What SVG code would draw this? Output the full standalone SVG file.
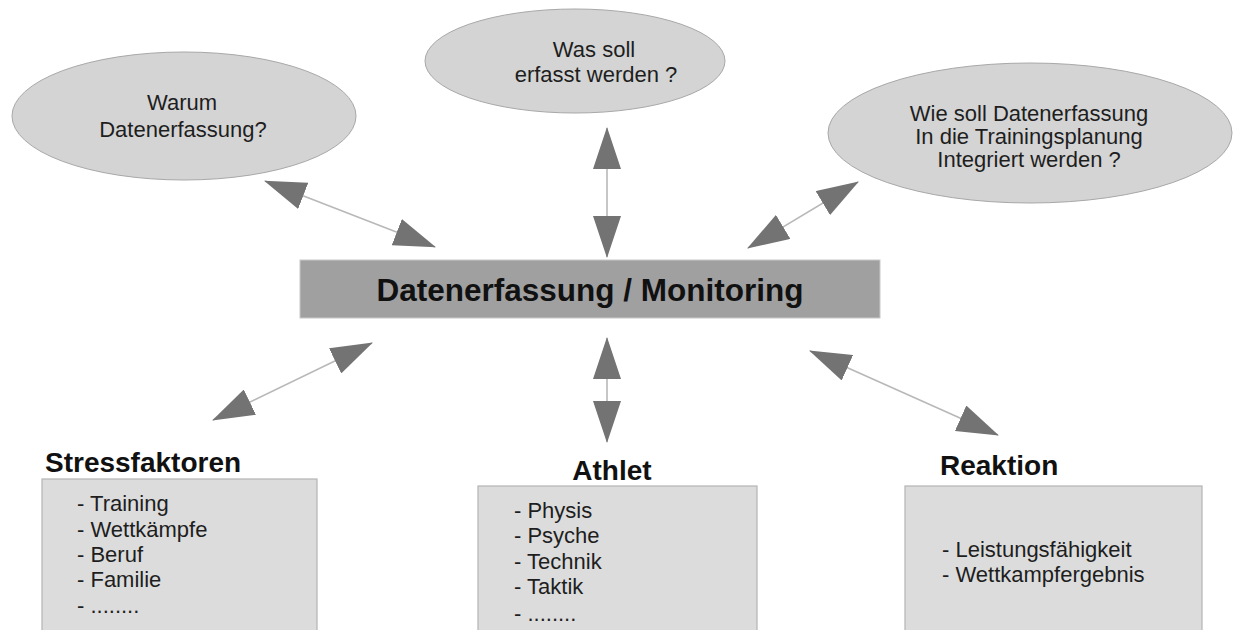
<svg xmlns="http://www.w3.org/2000/svg" width="1235" height="630" viewBox="0 0 1235 630">
<style>
.ell{fill:#d4d4d4;stroke:#a8a8a8;stroke-width:1}
.box{fill:#dcdcdc;stroke:#b4b4b4;stroke-width:1.2}
.bar{fill:#a0a0a0;stroke:#c8c8c8;stroke-width:1}
.t{font-family:"Liberation Sans",Arial,sans-serif;font-size:22px;fill:#1e1e1e}
.c{text-anchor:middle}
.title{font-family:"Liberation Sans",Arial,sans-serif;font-size:28px;font-weight:bold;fill:#111}
.main{font-family:"Liberation Sans",Arial,sans-serif;font-size:31.5px;font-weight:bold;fill:#111;text-anchor:middle}
.con{stroke:#b8b8b8;stroke-width:1.6;fill:none;marker-start:url(#ah);marker-end:url(#ah)}
</style>
<defs>
<marker id="ah" markerUnits="userSpaceOnUse" viewBox="0 0 42 28" markerWidth="42" markerHeight="28" refX="41" refY="14" orient="auto-start-reverse">
<path d="M0,0 L42,14 L0,28 z" fill="#737373"/>
</marker>
</defs>
<rect width="1235" height="630" fill="#ffffff"/>

<g id="connectors">
<line class="con" x1="265" y1="181" x2="435" y2="247"/>
<line class="con" x1="607" y1="128" x2="607" y2="257"/>
<line class="con" x1="858" y1="182" x2="748" y2="248"/>
<line class="con" x1="372" y1="343" x2="213" y2="420"/>
<line class="con" x1="607" y1="338" x2="607" y2="442"/>
<line class="con" x1="810" y1="351" x2="998" y2="435"/>
</g>

<g id="node-warum">
<ellipse class="ell" cx="184" cy="116" rx="172" ry="64"/>
<text class="t c" x="182" y="110">Warum</text>
<text class="t c" x="183" y="137">Datenerfassung?</text>
</g>

<g id="node-was">
<ellipse class="ell" cx="575" cy="61" rx="150" ry="52"/>
<text class="t c" x="594" y="57">Was soll</text>
<text class="t c" x="596" y="82">erfasst werden ?</text>
</g>

<g id="node-wie">
<ellipse class="ell" cx="1030" cy="133" rx="202" ry="70"/>
<text class="t c" x="1029" y="121">Wie soll Datenerfassung</text>
<text class="t c" x="1029" y="144">In die Trainingsplanung</text>
<text class="t c" x="1029" y="167">Integriert werden ?</text>
</g>

<g id="node-main">
<rect class="bar" x="300" y="260" width="580" height="58"/>
<text class="main" x="590" y="301">Datenerfassung / Monitoring</text>
</g>

<g id="node-stress">
<text class="title" x="45" y="472">Stressfaktoren</text>
<rect class="box" x="42" y="479" width="275" height="160"/>
<text class="t" x="77" y="511">- Training</text>
<text class="t" x="77" y="537">- Wettkämpfe</text>
<text class="t" x="77" y="562">- Beruf</text>
<text class="t" x="77" y="587">- Familie</text>
<text class="t" x="77" y="613">- ........</text>
</g>

<g id="node-athlet">
<text class="title c" x="612" y="480">Athlet</text>
<rect class="box" x="478" y="486" width="279" height="154"/>
<text class="t" x="514" y="518">- Physis</text>
<text class="t" x="514" y="543">- Psyche</text>
<text class="t" x="514" y="569">- Technik</text>
<text class="t" x="514" y="594">- Taktik</text>
<text class="t" x="514" y="621">- ........</text>
</g>

<g id="node-reaktion">
<text class="title" x="940" y="475">Reaktion</text>
<rect class="box" x="905" y="486" width="297" height="154"/>
<text class="t" x="942" y="557">- Leistungsfähigkeit</text>
<text class="t" x="942" y="582">- Wettkampfergebnis</text>
</g>
</svg>
